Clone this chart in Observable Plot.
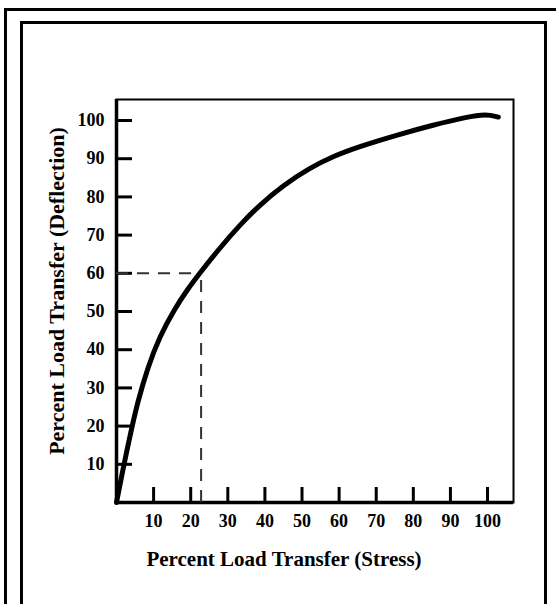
<!DOCTYPE html>
<html>
<head>
<meta charset="utf-8">
<script src="https://cdn.jsdelivr.net/npm/d3@7"></script>
<script src="https://cdn.jsdelivr.net/npm/@observablehq/plot@0.6"></script>
<style>
  html, body { margin: 0; padding: 0; background: #fff; }
  #wrap { position: relative; width: 556px; height: 604px; overflow: hidden; background: #fff; }
  #outer { position: absolute; left: 4px; top: 8px; width: 600px; height: 700px; border: 3px solid #000; box-sizing: border-box; }
  #inner { position: absolute; left: 20px; top: 21px; width: 527px; height: 700px; border: 3px solid #000; box-sizing: border-box; }
  #chart { position: absolute; left: 0; top: 0; }
</style>
</head>
<body>
<div id="wrap">
  <div id="outer"></div>
  <div id="inner"></div>
  <div id="chart"></div>
</div>
<script>
// Data
const stress     = [0, 1.5, 3.7, 5.7, 8.4, 11.6, 15.6, 19.2, 22.4, 27.8, 33.2, 38.6, 44.9, 52.1, 58.3, 65.1, 76.3, 85.3, 94.3, 99.7, 102.9];
const deflection = [0, 7.5, 17.8, 26.3, 35.3, 43.4, 50.6, 55.9, 60.0, 66.6, 72.6, 77.9, 83.0, 87.6, 90.6, 93.1, 96.4, 98.8, 100.9, 101.7, 100.9];
const xTicks = [10, 20, 30, 40, 50, 60, 70, 80, 90, 100];
const yTicks = [10, 20, 30, 40, 50, 60, 70, 80, 90, 100];
const refStress = [22.8];
const refDeflection = [60];
const xTitle = "Percent Load Transfer (Stress)";
const yTitle = "Percent Load Transfer (Deflection)";

const curve = stress.map((s, i) => ({stress: s, deflection: deflection[i]}));

const W = 556, H = 604;
const mL = 116, mR = 43, mT = 99, mB = 102;
const plotW = W - mL - mR, plotH = H - mT - mB;
const font = "'Liberation Serif', 'Times New Roman', serif";

const chart = Plot.plot({
  width: W,
  height: H,
  marginLeft: mL,
  marginRight: mR,
  marginTop: mT,
  marginBottom: mB,
  style: {fontFamily: font, background: "transparent", overflow: "visible"},
  x: {domain: [0, 107]},
  y: {domain: [0, 105.5]},
  marks: [
    Plot.frame({stroke: "#000", strokeWidth: 2}),
    Plot.ruleX([0], {stroke: "#000", strokeWidth: 3.5}),
    Plot.ruleY([0], {stroke: "#000", strokeWidth: 3.5}),
    Plot.tickX(xTicks, {x: d => d, insetTop: plotH - 15, stroke: "#000", strokeWidth: 3}),
    Plot.tickY(yTicks, {y: d => d, insetRight: plotW - 16, stroke: "#000", strokeWidth: 3}),
    Plot.axisX(xTicks, {tickSize: 0, tickPadding: 12, fontSize: 18, fontWeight: "bold", fill: "#000", label: null}),
    Plot.axisY(yTicks, {tickSize: 0, tickPadding: 12, fontSize: 18, fontWeight: "bold", fill: "#000", label: null}),
    Plot.ruleY(refDeflection, {y: d => d, x1: 0, x2: refStress[0], stroke: "#333", strokeWidth: 2, strokeDasharray: "12,9"}),
    Plot.ruleX(refStress, {x: d => d, y1: 0, y2: refDeflection[0], stroke: "#333", strokeWidth: 2, strokeDasharray: "12,9"}),
    Plot.line(curve, {x: "stress", y: "deflection", curve: "basis", stroke: "#000", strokeWidth: 5, strokeLinecap: "round"}),
    Plot.text([xTitle], {frameAnchor: "bottom", dy: 63, dx: -31, text: d => d, fontSize: 21, fontWeight: "bold", fill: "#000"}),
    Plot.text([yTitle], {frameAnchor: "left", textAnchor: "middle", dx: -60, dy: -10, rotate: -90, text: d => d, fontSize: 22, fontWeight: "bold", fill: "#000"})
  ]
});
document.getElementById("chart").appendChild(chart);
</script>
</body>
</html>
